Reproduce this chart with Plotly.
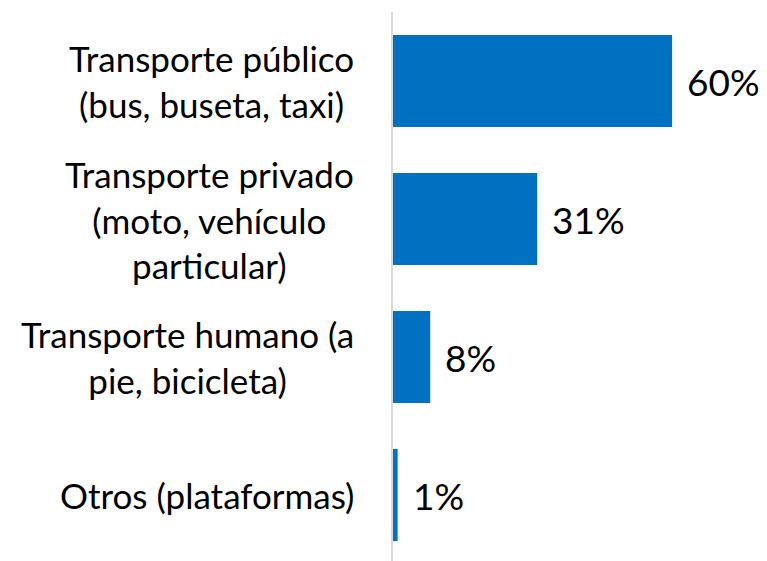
import plotly.graph_objects as go

categories = [
    "Transporte público<br>(bus, buseta, taxi)",
    "Transporte privado<br>(moto, vehículo<br>particular)",
    "Transporte humano (a<br>pie, bicicleta)",
    "Otros (plataformas)",
]
values = [60, 31, 8, 1]
value_labels = ["60%", "31%", "8%", "1%"]

FONT = "Lato, 'Open Sans', sans-serif"
BAR_COLOR = "#0070C0"

fig = go.Figure(
    go.Bar(
        x=values,
        y=categories,
        orientation="h",
        marker=dict(color=BAR_COLOR, line=dict(width=0)),
        width=0.667,
        hoverinfo="skip",
    )
)

annotations = []
for cat, val, lab in zip(categories, values, value_labels):
    annotations.append(dict(
        x=val, y=cat, xref="x", yref="y", text=lab, showarrow=False,
        xanchor="left", yanchor="middle", xshift=13,
        font=dict(family=FONT, size=37, color="#000000"),
    ))
    annotations.append(dict(
        x=0, y=cat, xref="paper", yref="y", text=cat, showarrow=False,
        xanchor="right", yanchor="middle", xshift=-37, align="center",
        font=dict(family=FONT, size=35, color="#000000"),
    ))

fig.update_layout(
    width=759, height=553,
    margin=dict(l=385, r=0, t=4, b=0),
    paper_bgcolor="white", plot_bgcolor="white",
    showlegend=False,
    annotations=annotations,
    xaxis=dict(range=[0, 80.4], visible=False, fixedrange=True),
    yaxis=dict(
        categoryorder="array", categoryarray=categories,
        range=[3.478, -0.5], showticklabels=False, ticks="",
        showgrid=False, zeroline=False,
        showline=True, linecolor="#d9d9d9", linewidth=2,
    ),
)

fig.write_html("out.html")
